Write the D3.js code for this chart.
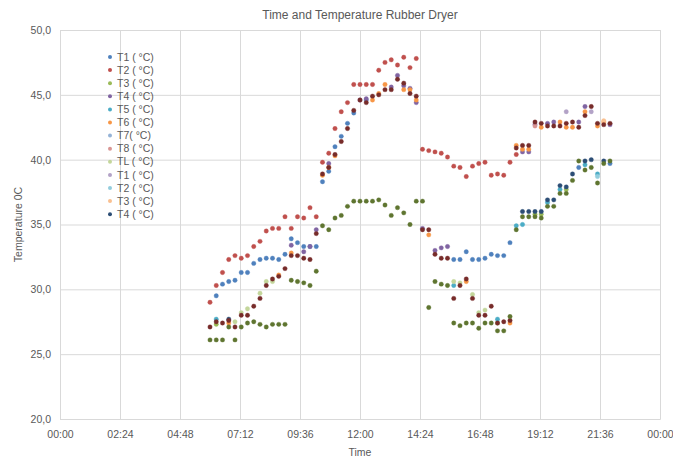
<!DOCTYPE html>
<html>
<head>
<meta charset="utf-8">
<script src="https://cdn.jsdelivr.net/npm/d3@7"></script>
<style>
  body { margin: 0; background: #fff; }
  text { font-family: "Liberation Sans", Arial, sans-serif; fill: #595959; }
</style>
</head>
<body>
<script>
var _ = null;

// Sample times, every 15 min
var times = ["06:00","06:15","06:30","06:45","07:00","07:15","07:30","07:45","08:00","08:15",
  "08:30","08:45","09:00","09:15","09:30","09:45","10:00","10:15","10:30","10:45",
  "11:00","11:15","11:30","11:45","12:00","12:15","12:30","12:45","13:00","13:15",
  "13:30","13:45","14:00","14:15","14:30","14:45","15:00","15:15","15:30","15:45",
  "16:00","16:15","16:30","16:45","17:00","17:15","17:30","17:45","18:00","18:15",
  "18:30","18:45","19:00","19:15","19:30","19:45","20:00","20:15","20:30","20:45",
  "21:00","21:15","21:30","21:45","22:00"];

// Temperature readings (deg C), one value per time, null = no reading
var t1 = [_,29.5,30.4,30.6,30.7,31.3,31.3,32.0,32.3,32.4,
  32.4,32.3,32.7,33.9,33.6,33.3,33.3,33.3,38.3,39.1,
  41.0,41.8,42.8,43.6,_,44.6,_,_,_,_,
  _,_,_,_,_,_,_,_,_,32.3,
  32.3,32.9,32.3,32.3,32.4,32.7,32.6,32.6,33.6,_,
  _,_,_,_,_,_,_,_,_,39.4,
  _,_,_,_,39.7];
var t2 = [29.0,30.3,31.3,32.3,32.6,32.4,32.6,33.3,33.7,34.5,
  34.7,34.7,35.6,34.7,35.6,35.5,36.3,35.6,39.8,40.5,
  42.4,43.7,44.4,45.8,45.8,45.8,45.8,46.9,47.5,47.7,
  47.3,47.9,47.1,47.8,40.8,40.7,40.6,40.5,40.2,39.5,
  39.4,38.7,39.5,39.7,39.8,38.8,38.9,38.8,39.8,40.4,
  _,_,_,_,_,_,_,_,_,_,
  _,_,_,_,_];
var t3 = [_,27.3,_,_,_,_,_,_,_,_,
  _,_,_,_,_,_,_,_,_,_,
  _,_,_,_,_,_,_,_,_,_,
  _,_,_,_,_,_,_,_,_,_,
  _,_,_,_,_,_,27.4,_,_,_,
  _,_,35.8,35.8,_,_,_,37.7,_,_,
  _,_,_,_,_];
var t4 = [_,_,_,_,_,_,_,_,_,_,
  _,_,_,33.4,_,32.9,33.3,34.6,_,39.7,
  _,_,_,_,44.6,44.7,_,_,_,45.6,
  46.5,45.7,45.5,44.4,34.7,_,33.0,33.2,33.3,_,
  _,_,_,_,_,_,_,_,_,_,
  40.6,40.6,42.7,_,42.8,42.9,_,_,_,42.9,
  44.1,_,_,_,42.7];
var t5 = [_,27.7,_,_,_,_,_,_,_,_,
  _,_,_,_,_,_,_,_,_,_,
  _,_,_,_,_,_,_,_,_,_,
  _,_,_,_,_,_,_,_,_,30.3,
  _,_,_,_,_,_,27.7,_,_,34.9,
  35.0,_,_,_,36.7,_,37.7,_,_,_,
  39.6,_,38.9,_,_];
var t6 = [_,_,_,27.4,_,_,_,_,_,_,
  _,31.1,_,32.8,_,_,_,_,38.8,39.4,
  40.3,_,_,_,_,_,44.6,45.1,45.8,_,
  _,45.4,45.4,44.6,_,34.2,_,_,_,_,
  _,30.6,_,_,_,_,_,_,27.4,41.1,
  40.8,40.8,_,42.5,_,_,42.9,42.5,42.5,_,
  43.7,_,42.6,42.9,_];
var t7 = [];
var t8 = [_,_,_,_,_,_,_,_,_,_,
  _,_,_,_,_,_,_,_,_,_,
  _,_,_,_,_,_,_,_,_,_,
  _,_,_,_,_,_,_,_,_,_,
  _,_,_,_,_,_,_,_,_,_,
  _,_,42.6,_,_,_,_,_,_,_,
  _,_,_,_,_];
var tL = [_,_,_,_,27.5,28.2,28.5,_,29.7,30.6,
  30.6,_,_,_,_,_,_,_,_,_,
  _,_,_,_,_,_,_,_,_,_,
  _,_,_,_,_,_,_,_,_,30.6,
  30.5,_,29.6,28.2,28.4,_,_,_,_,_,
  _,_,_,_,_,_,_,_,_,_,
  _,_,_,_,_];
var t1b = [_,_,_,_,_,_,_,_,_,_,
  _,_,_,_,_,_,_,_,_,_,
  _,_,_,_,_,_,_,_,_,_,
  _,_,_,_,_,_,_,_,_,_,
  _,_,_,_,_,_,_,_,_,_,
  _,_,_,_,_,_,_,43.7,_,_,
  _,43.7,_,_,_];
var t2b = [_,_,_,_,_,_,_,_,_,_,
  _,_,_,_,_,_,_,_,_,_,
  _,_,_,_,_,_,_,_,_,_,
  _,_,_,_,_,_,_,_,_,_,
  _,_,_,_,_,_,_,_,_,_,
  _,_,_,_,_,_,_,_,_,_,
  _,_,38.7,_,_];
var t3b = [_,_,_,_,_,_,_,_,_,_,
  _,_,_,_,_,_,_,_,_,_,
  _,_,_,_,_,_,_,_,_,_,
  _,_,_,_,_,_,_,_,_,_,
  _,_,_,_,_,_,_,_,_,_,
  _,_,_,_,_,_,_,_,_,_,
  _,_,_,43.0,_];
var t4b = [_,_,_,27.7,_,_,_,_,_,_,
  _,_,_,_,_,_,_,_,_,_,
  _,_,_,_,_,_,_,_,_,_,
  _,_,_,_,_,_,_,_,_,_,
  _,_,_,_,_,_,_,_,_,_,
  36.0,36.0,36.0,36.0,36.9,36.9,38.0,37.9,38.9,_,
  39.9,40.0,_,39.9,_];
var t5b = [27.1,27.5,27.4,27.6,27.1,28.0,28.0,28.7,29.3,30.3,
  30.8,31.0,31.6,32.6,32.6,32.4,32.3,34.3,38.9,39.4,
  40.4,41.4,42.4,43.8,44.6,44.4,44.9,45.0,45.4,45.4,
  46.2,45.9,45.1,44.9,34.6,34.6,32.7,32.4,32.4,29.3,
  30.3,30.8,29.3,28.0,28.0,28.7,27.4,27.5,27.6,40.9,
  41.1,41.1,42.9,42.8,42.6,42.6,42.6,42.8,42.9,42.5,
  43.4,44.1,42.8,42.7,42.8];
var t6b = [26.1,26.1,26.1,27.1,26.1,27.1,27.4,27.5,27.3,27.1,
  27.3,27.3,27.3,30.7,30.6,30.5,30.3,31.4,34.9,34.6,
  35.5,35.7,36.4,36.8,36.8,36.8,36.8,36.9,36.5,35.7,
  36.3,35.9,35.0,36.8,36.8,28.6,30.6,30.4,30.3,27.4,
  27.2,27.4,27.4,27.0,27.4,27.4,26.8,26.8,27.9,34.6,
  35.6,35.6,35.6,35.5,36.4,36.4,37.4,37.4,38.4,39.9,
  39.2,39.4,38.2,39.7,39.9];

var seriesNames = ["T1 ( °C)","T2 ( °C)","T3 ( °C)","T4 ( °C)","T5 ( °C)","T6 ( °C)",
  "T7( °C)","T8 ( °C)","TL ( °C)","T1 ( °C)","T2 ( °C)","T3 ( °C)","T4 ( °C)",
  "T5 ( °C)","T6 ( °C)"];
var seriesData = [t1, t2, t3, t4, t5, t6, t7, t8, tL, t1b, t2b, t3b, t4b, t5b, t6b];
var seriesColors = ["#4f81bd","#c0504d","#9bbb59","#8064a2","#4bacc6","#f79646",
  "#95b3d7","#d99694","#c3d69b","#b3a2c7","#93cddd","#fac090","#2c4d75",
  "#772c2a","#5f7530"];
var legendCount = 13;   // last two entries do not fit in the legend box

var xTickValues = [0, 2.4, 4.8, 7.2, 9.6, 12, 14.4, 16.8, 19.2, 21.6, 24];
var xTickLabels = ["00:00","02:24","04:48","07:12","09:36","12:00","14:24","16:48","19:12","21:36","00:00"];
var yTickValues = [20, 25, 30, 35, 40, 45, 50];

var svgWidth = 673, svgHeight = 457;
var margin = {top: 30, right: 13, bottom: 38, left: 60};
var width = svgWidth - margin.left - margin.right;
var height = svgHeight - margin.top - margin.bottom;

var svg = d3.select("body").append("svg")
  .attr("width", svgWidth)
  .attr("height", svgHeight);

var chartGroup = svg.append("g")
  .attr("transform", `translate(${margin.left}, ${margin.top})`);

var xScale = d3.scaleLinear().domain([0, 24]).range([0, width]);
var yScale = d3.scaleLinear().domain([20, 50]).range([height, 0]);

function hours(s) {
  var p = s.split(":");
  return +p[0] + p[1] / 60;
}

// gridlines + axes
var bottomAxis = d3.axisBottom(xScale)
  .tickValues(xTickValues)
  .tickFormat((d, i) => xTickLabels[i])
  .tickSize(-height)
  .tickPadding(12);
var leftAxis = d3.axisLeft(yScale)
  .tickValues(yTickValues)
  .tickFormat(d => d3.format(".1f")(d).replace(".", ","))
  .tickSize(-width)
  .tickPadding(9);

var xAxisG = chartGroup.append("g")
  .attr("transform", `translate(0, ${height})`)
  .call(bottomAxis);
var yAxisG = chartGroup.append("g").call(leftAxis);

[xAxisG, yAxisG].forEach(function(g) {
  g.select(".domain").attr("stroke", "#d9d9d9");
  g.selectAll(".tick line").attr("stroke", "#d9d9d9");
  g.selectAll(".tick text")
    .style("font-size", "10.5px")
    .attr("fill", "#595959");
});

// markers
seriesData.forEach(function(values, s) {
  var pts = [];
  values.forEach(function(v, i) {
    if (v !== null && v !== undefined) pts.push({t: hours(times[i]), v: v});
  });
  chartGroup.append("g")
    .selectAll("circle")
    .data(pts)
    .enter()
    .append("circle")
    .attr("cx", d => xScale(d.t))
    .attr("cy", d => yScale(d.v))
    .attr("r", 2.2)
    .attr("fill", seriesColors[s])
    .attr("stroke", seriesColors[s])
    .attr("stroke-opacity", 0.35)
    .attr("stroke-width", 1);
});

// legend
var legend = svg.append("g").attr("transform", "translate(110, 57)");
seriesNames.slice(0, legendCount).forEach(function(name, i) {
  legend.append("circle")
    .attr("cx", 0)
    .attr("cy", i * 13.1)
    .attr("r", 2)
    .attr("fill", seriesColors[i]);
  legend.append("text")
    .attr("x", 7)
    .attr("y", i * 13.1)
    .attr("dy", "0.35em")
    .style("font-size", "10.5px")
    .text(name);
});

// titles
svg.append("text")
  .attr("x", margin.left + width / 2)
  .attr("y", 19)
  .style("text-anchor", "middle")
  .style("font-size", "12px")
  .text("Time and Temperature Rubber Dryer");

svg.append("text")
  .attr("x", margin.left + width / 2)
  .attr("y", 456)
  .style("text-anchor", "middle")
  .style("font-size", "10.5px")
  .text("Time");

svg.append("text")
  .attr("transform", "rotate(-90)")
  .attr("x", -(margin.top + height / 2))
  .attr("y", 22)
  .style("text-anchor", "middle")
  .style("font-size", "10.5px")
  .text("Temperature 0C");
</script>
</body>
</html>
